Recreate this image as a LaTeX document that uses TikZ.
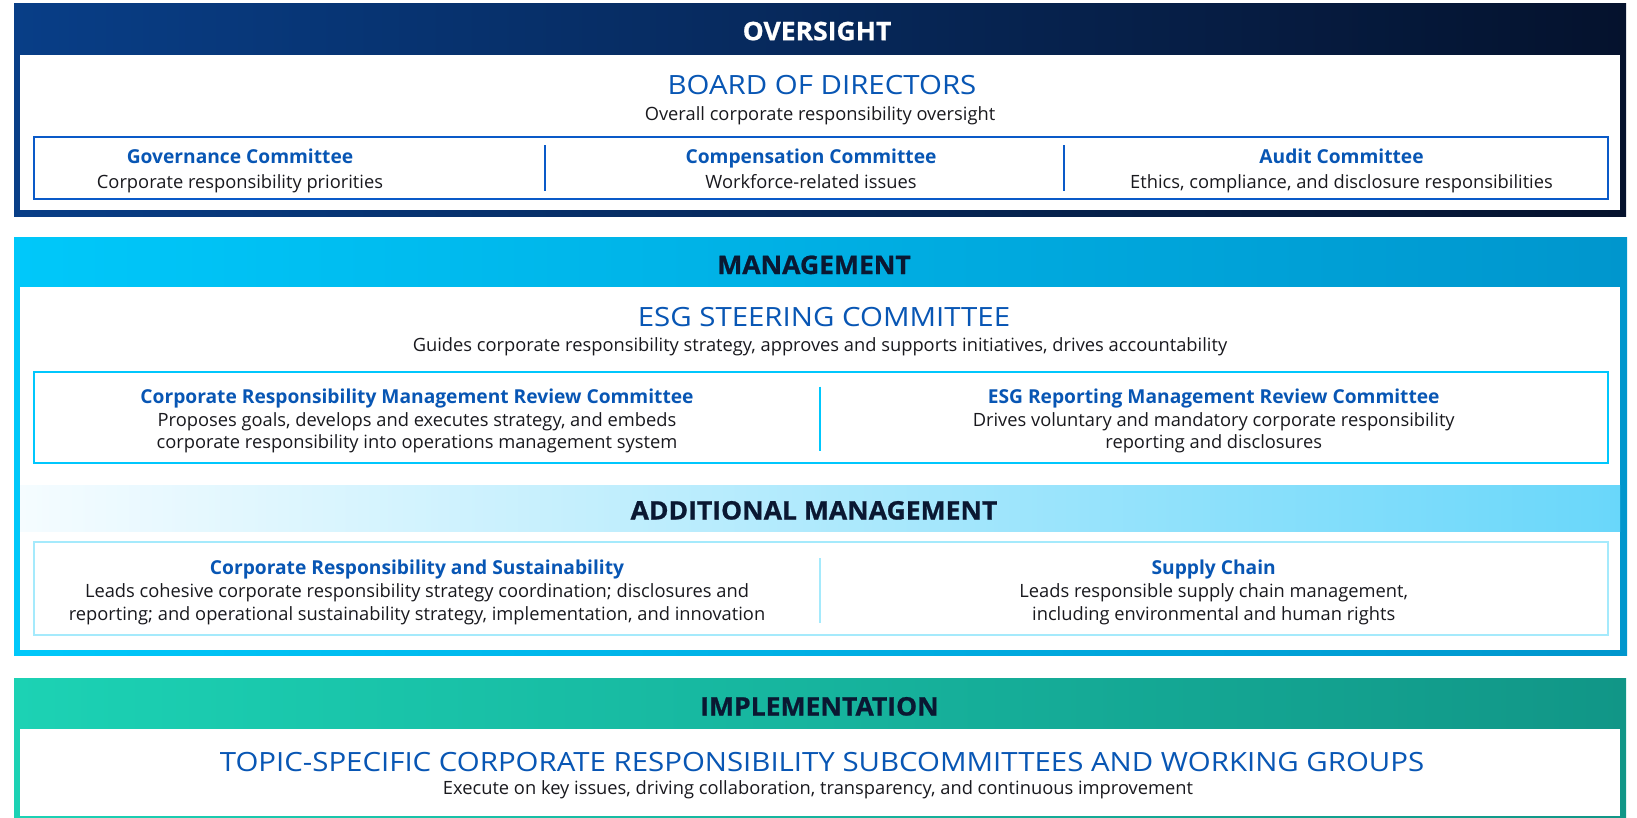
\documentclass[tikz,border=0pt]{standalone}
\usepackage{fontspec}
\setmainfont{Open Sans}
\newfontfamily\widefont[FakeStretch=1.11]{Open Sans}
\newfontfamily\hdrfont[FakeStretch=1.04, BoldFeatures={FakeBold=0.8}]{Open Sans}
\definecolor{titleblue}{RGB}{8,86,180}
\definecolor{bodyblack}{RGB}{25,25,30}
\definecolor{hdrdark}{RGB}{10,24,50}
\definecolor{ovL}{RGB}{8,62,135}
\definecolor{ovR}{RGB}{5,18,45}
\definecolor{mgL}{RGB}{0,200,250}
\definecolor{mgR}{RGB}{0,150,205}
\definecolor{imL}{RGB}{28,210,180}
\definecolor{imR}{RGB}{17,150,135}
\definecolor{adL}{RGB}{245,252,255}
\definecolor{adR}{RGB}{105,215,250}
\definecolor{ovline}{RGB}{10,90,200}
\definecolor{mgline}{RGB}{0,199,253}
\definecolor{adline}{RGB}{165,234,252}
\begin{document}
\begin{tikzpicture}[x=1pt,y=-1pt,
  every node/.style={anchor=base, inner sep=0pt},
  hdr/.style={font=\hdrfont\bfseries\fontsize{25.5}{30}\selectfont},
  big/.style={font=\widefont\fontsize{26.5}{32}\selectfont, text=titleblue},
  body/.style={font=\fontsize{18.3}{22}\selectfont, text=bodyblack},
  sub/.style={font=\bfseries\fontsize{19.2}{23}\selectfont, text=titleblue},
  divider/.style={line width=2.5pt}]
\useasboundingbox (0,0) rectangle (1637,817);
% ---------- OVERSIGHT ----------
\shade[left color=ovL, right color=ovR] (14,3) rectangle (1626,216);
\fill[white] (20,55) rectangle (1620,210);
\draw[ovline, line width=2pt] (34,137) rectangle (1608,199);
\node[hdr, text=white] (ovh) at (817,40.2) {OVERSIGHT};
\node[big] (bod) at (822,94) {BOARD OF DIRECTORS};
\node[body] (bodd) at (820,120) {Overall corporate responsibility oversight};
\node[sub] (gov) at (240,163.3) {Governance Committee};
\node[body] (govd) at (240,188.3) {Corporate responsibility priorities};
\node[sub] (comp) at (811,163.3) {Compensation Committee};
\node[body] (compd) at (811,188.3) {Workforce-related issues};
\node[sub] (aud) at (1341.5,163.3) {Audit Committee};
\node[body] (audd) at (1341.5,188.3) {Ethics, compliance, and disclosure responsibilities};
\coordinate (d1t) at (545,145); \coordinate (d1b) at (545,191);
\coordinate (d2t) at (1064,145); \coordinate (d2b) at (1064,191);
\draw[divider, ovline] (d1t) -- (d1b);
\draw[divider, ovline] (d2t) -- (d2b);
% ---------- MANAGEMENT ----------
\shade[left color=mgL, right color=mgR] (14,237) rectangle (1627,655);
\fill[white] (20,287) rectangle (1620,650);
\node[hdr, text=hdrdark] (mgh) at (814,274) {MANAGEMENT};
\node[big] (esg) at (824,326) {ESG STEERING COMMITTEE};
\node[body] (esgd) at (820,351) {Guides corporate responsibility strategy, approves and supports initiatives, drives accountability};
\draw[mgline, line width=2.5pt] (34,372) rectangle (1608,463);
\node[sub] (crm) at (417,403.5) {Corporate Responsibility Management Review Committee};
\node[body] (crmd1) at (417,426) {Proposes goals, develops and executes strategy, and embeds};
\node[body] (crmd2) at (417,448.3) {corporate responsibility into operations management system};
\node[sub] (erm) at (1213.7,403.5) {ESG Reporting Management Review Committee};
\node[body] (ermd1) at (1213.7,426) {Drives voluntary and mandatory corporate responsibility};
\node[body] (ermd2) at (1213.7,448.3) {reporting and disclosures};
\coordinate (d3t) at (820,386.5); \coordinate (d3b) at (820,451);
\draw[divider, mgline] (d3t) -- (d3b);
% additional management band
\shade[left color=adL, right color=adR] (20,485) rectangle (1620,531);
\node[hdr, text=hdrdark] (adh) at (814,519.5) {ADDITIONAL MANAGEMENT};
\draw[adline, line width=2.5pt] (34,542) rectangle (1608,635);
\node[sub] (crs) at (417,574) {Corporate Responsibility and Sustainability};
\node[body] (crsd1) at (417,597.7) {Leads cohesive corporate responsibility strategy coordination; disclosures and};
\node[body] (crsd2) at (417,620) {reporting; and operational sustainability strategy, implementation, and innovation};
\node[sub] (sc) at (1213.7,574) {Supply Chain};
\node[body] (scd1) at (1213.7,597.7) {Leads responsible supply chain management,};
\node[body] (scd2) at (1213.7,620) {including environmental and human rights};
\coordinate (d4t) at (820,558); \coordinate (d4b) at (820,623);
\draw[divider, adline] (d4t) -- (d4b);
% ---------- IMPLEMENTATION ----------
\shade[left color=imL, right color=imR] (14,678) rectangle (1626,820);
\fill[white] (20,729) rectangle (1620,816);
\node[hdr, text=hdrdark] (imh) at (819.5,715.5) {IMPLEMENTATION};
\node[big] (top) at (822,771) {TOPIC-SPECIFIC CORPORATE RESPONSIBILITY SUBCOMMITTEES AND WORKING GROUPS};
\node[body] (topd) at (818,794) {Execute on key issues, driving collaboration, transparency, and continuous improvement};
\end{tikzpicture}
\end{document}
